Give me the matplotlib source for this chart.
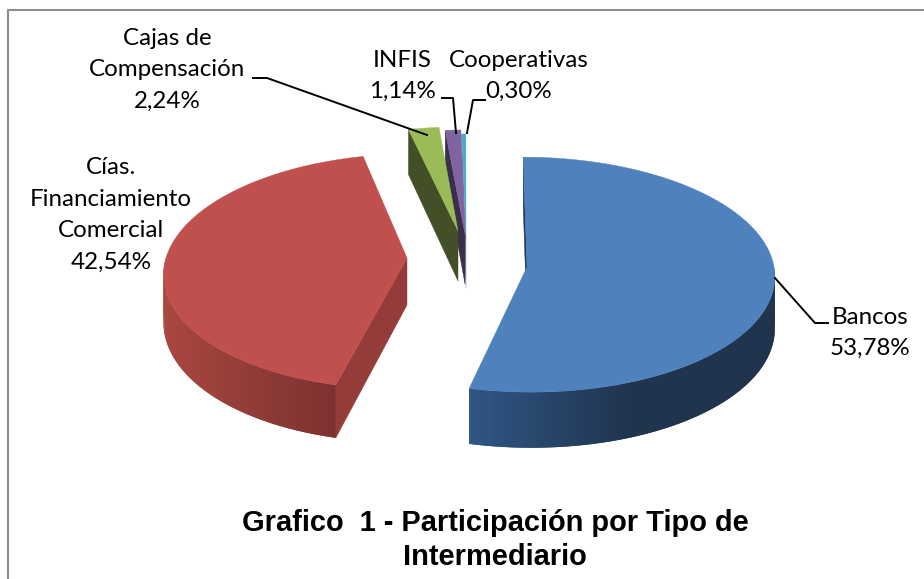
import numpy as np
import matplotlib
matplotlib.use("Agg")
import matplotlib.pyplot as plt
from matplotlib.colors import to_rgb

labels = ["Bancos\n53,78%", "Cías.\nFinanciamiento\nComercial\n42,54%", "Cajas de\nCompensación\n2,24%", "INFIS\n1,14%", "Cooperativas\n0,30%"]
values = [53.78, 42.54, 2.24, 1.14, 0.30]
top_colors = ["#4F81BD", "#C0504D", "#9BBB59", "#8064A2", "#4BACC6"]
cut_colors = ["#1F3552", "#943C3A", "#434F26", "#3B2E4B", "#8A7FA0"]
rim_start = ["#2F5684", "#A8473F", "#434F26", "#3B2E4B", "#8A7FA0"]
rim_end = ["#20344E", "#7A3030", "#434F26", "#3B2E4B", "#8A7FA0"]

# apex of each exploded slice on the picture
apex_x = [527, 407, 458, 465, 466]
apex_y = [267, 258, 231, 234, 238]
radius_x = [247, 241, 244, 244, 244]
radius_y = [117, 116, 116, 116, 116]
depth = [52, 47, 50, 50, 50]
persp = [0.065, 0.115, 0.115, 0.115, 0.115]
vanish_x = 465

fig = plt.figure(figsize=(9.24, 5.79), dpi=100)
ax = fig.add_axes([0, 0, 1, 1])
ax.set_xlim(0, 924)
ax.set_ylim(579, 0)
ax.axis("off")

edges = np.cumsum([0] + values) / 100 * 2 * np.pi


def project(i, theta, r=1.0):
    # slice coords to picture, x goes toward the vanishing line at the back
    X = r * np.sin(theta)
    Y = r * np.cos(theta)
    s = 1 / (1 + persp[i] * Y)
    x = vanish_x + (apex_x[i] - vanish_x + radius_x[i] * X) * s
    y = apex_y[i] - radius_y[i] * Y * s
    return x, y, s


def side_face(i, theta, color):
    x, y, s = project(i, theta)
    x0, y0, s0 = project(i, theta, 0.0)
    d = depth[i]
    ax.fill([x, x0, x0, x], [y, y0, y0 + d * s0, y + d * s], color=color, lw=0.3)


def top_face(i):
    t = np.linspace(edges[i], edges[i + 1], 120)
    x, y, s = project(i, t)
    x0, y0, s0 = project(i, 0.0, 0.0)
    ax.fill(np.r_[x0, x], np.r_[y0, y], color=top_colors[i], lw=0.3)


def rim(i, a, b, x_from, x_span):
    thetas = np.linspace(a, b, 80)
    c0 = np.array(to_rgb(rim_start[i]))
    c1 = np.array(to_rgb(rim_end[i]))
    d = depth[i]
    # each quad runs under the next one, no seams that way
    for k in range(len(thetas) - 1):
        t2 = thetas[k:k + 3]
        x, y, s = project(i, t2)
        tone = np.clip(abs(x[0] - x_from) / x_span, 0, 1)
        ax.fill(np.r_[x, x[::-1]], np.r_[y, (y + d * s)[::-1]], color=c0 + (c1 - c0) * tone, lw=0)


# back slices first
for i in [4, 3, 2]:
    side_face(i, edges[i], cut_colors[i])
    top_face(i)

# Cias
rim(1, 1.5 * np.pi, edges[1], 165, 175)
side_face(1, edges[1], cut_colors[1])
top_face(1)

# Bancos
side_face(0, edges[0], cut_colors[0])
rim(0, 0.5 * np.pi, edges[1], 472, 160)
top_face(0)

# leader lines
ax.plot([775, 815, 828], [278, 323, 323], color="black", lw=1.4)
ax.plot([253, 267, 427], [78, 78, 135], color="black", lw=1.4)
ax.plot([442, 453, 456], [98, 98, 133], color="black", lw=1.4)
ax.plot([485, 473, 467], [100, 100, 133], color="black", lw=1.4)

# data labels
font = {"family": "Lato", "size": 17.4, "ha": "center", "va": "center", "linespacing": 1.62}
ax.text(870, 333, labels[0], **font)
ax.text(111, 215, labels[1], **font)
ax.text(167, 70, labels[2], **font)
ax.text(402, 76, labels[3], **font)
ax.text(519, 76, labels[4], **font)

ax.text(495, 540, "Grafico  1 - Participación por Tipo de\nIntermediario", family="Liberation Sans",
        weight="bold", size=20.9, ha="center", va="center", linespacing=1.26)

# chart frame, no line on the right side
ax.plot([8, 8, 924], [579, 10, 10], color="#8C8C8C", lw=1.5)

fig.savefig("out.png", dpi=100)
